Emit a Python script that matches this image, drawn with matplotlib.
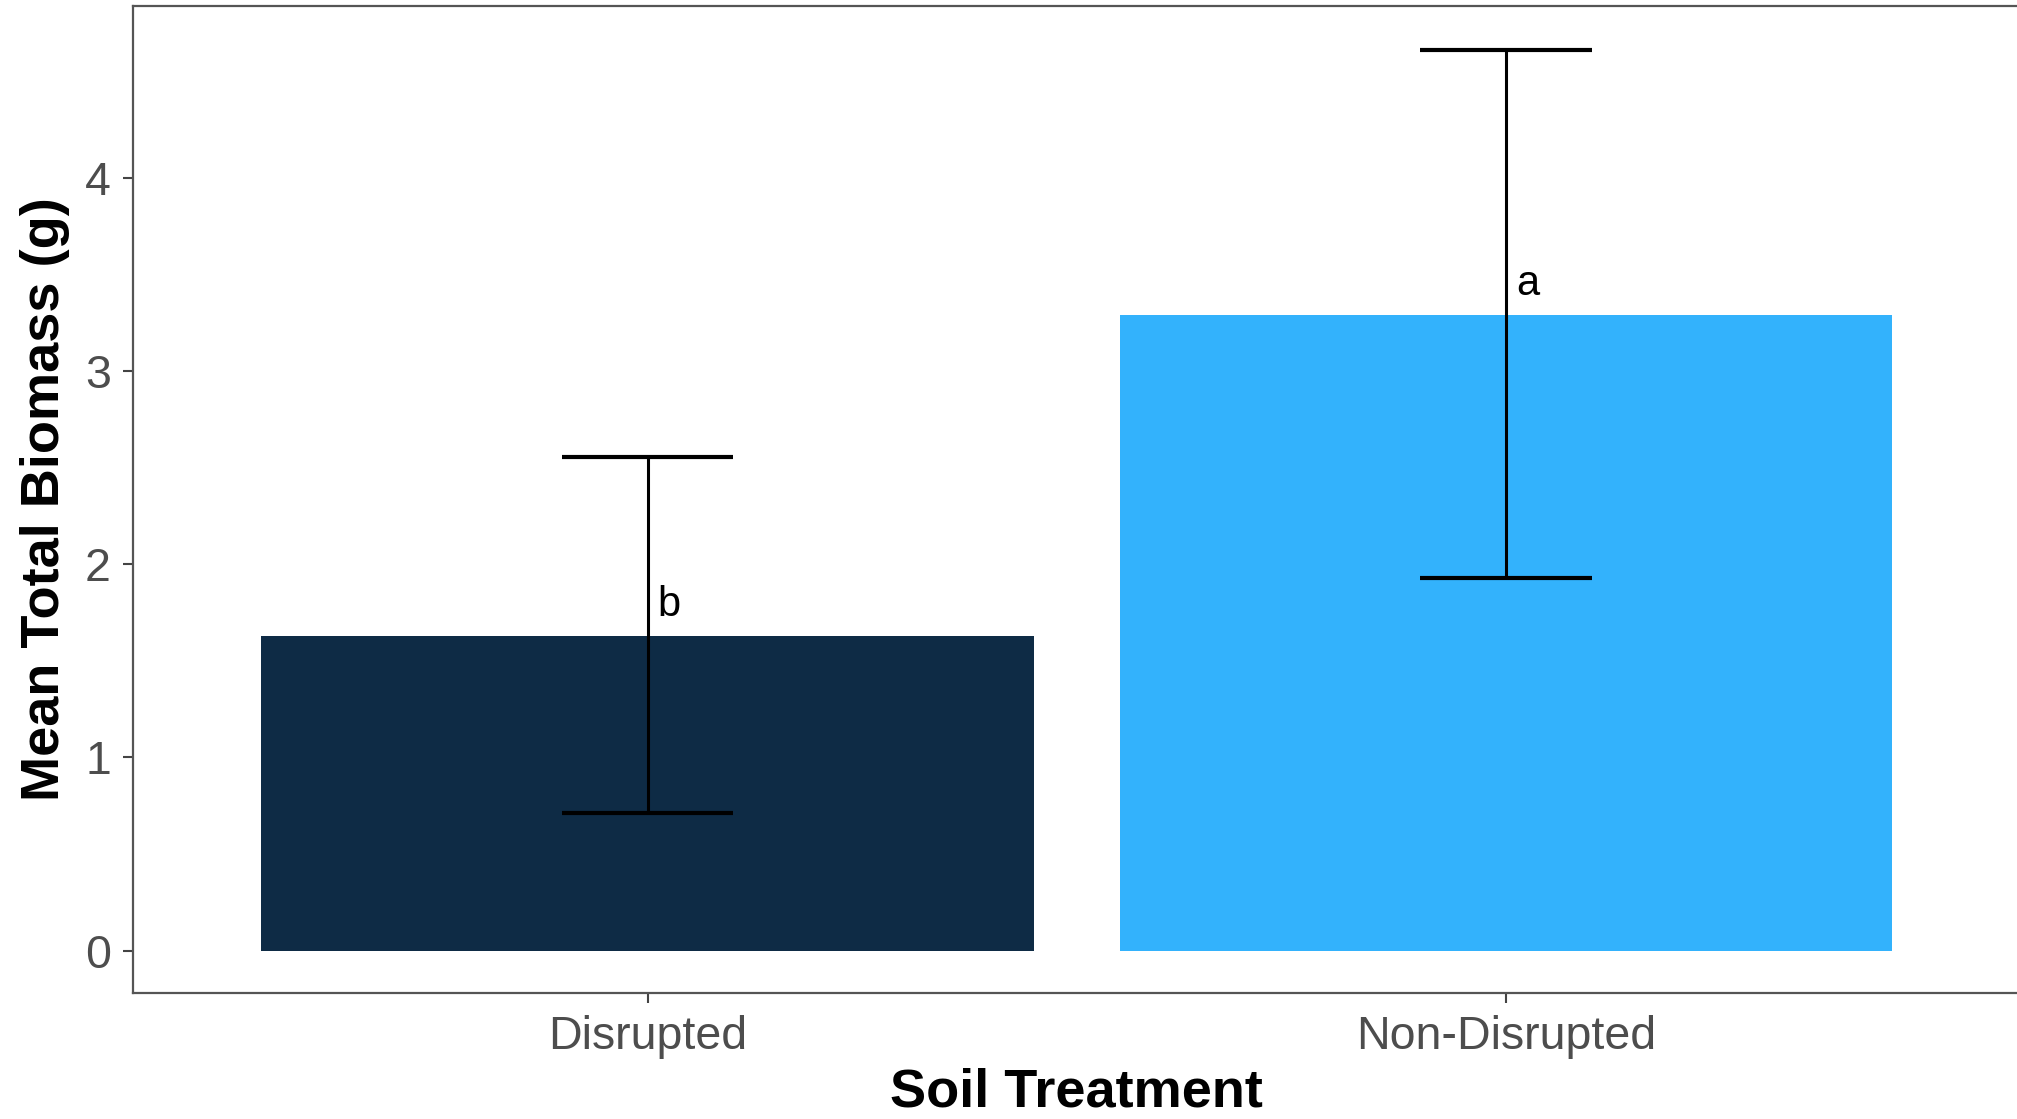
import numpy as np
import matplotlib.pyplot as plt

plt.rcParams['font.family'] = ['Liberation Sans', 'DejaVu Sans']

treatments = ['Disrupted', 'Non-Disrupted']
mean_biomass = [1.63, 3.29]
err_low = [0.71, 1.93]
err_high = [2.555, 4.66]
letters = ['b', 'a']
bar_colors = ['#0E2B45', '#33B2FC']

W, H = 2017, 1119
fig = plt.figure(figsize=(W / 100, H / 100), dpi=100)
left, right, bottom, top = 132.5, 2021, 993, 6
ax = fig.add_axes([left / W, 1 - bottom / H, (right - left) / W, (bottom - top) / H])

x = np.arange(1, len(treatments) + 1)
ax.bar(x, mean_biomass, width=0.9, color=bar_colors, zorder=1)

means = np.array(mean_biomass)
yerr = [means - np.array(err_low), np.array(err_high) - means]
ax.errorbar(x, means, yerr=yerr, fmt='none', ecolor='black', elinewidth=2.2,
            capsize=0, zorder=2)
# caps drawn as short horizontal lines, width 0.2 in data units
ax.hlines(err_low, x - 0.1, x + 0.1, colors='black', linewidth=3, zorder=2)
ax.hlines(err_high, x - 0.1, x + 0.1, colors='black', linewidth=3, zorder=2)

for xi, m, lab in zip(x, mean_biomass, letters):
    ax.text(xi + 0.012, m + 0.16, lab, ha='left', va='center', fontsize=30, color='black')

ax.set_xlim(0.4, 2.6)
ax.set_ylim(-0.22, 4.89)
ax.set_xticks(x)
ax.set_xticklabels(treatments)
ax.set_yticks([0, 1, 2, 3, 4])

for s in ax.spines.values():
    s.set_color('#555555')
    s.set_linewidth(1.6)

ax.tick_params(axis='both', colors='#444444', length=7.5, width=1.5, labelsize=33.5,
               labelcolor='#4D4D4D', pad=8)

fig.text((left + right) / 2 / W, 0.001, 'Soil Treatment', ha='center', va='bottom',
         fontsize=39, fontweight='bold')
fig.text(45 / W, 1 - (top + bottom) / 2 / H, 'Mean Total Biomass (g)', ha='center',
         va='center', rotation=90, fontsize=39, fontweight='bold')

fig.savefig('out.png', dpi=100)
